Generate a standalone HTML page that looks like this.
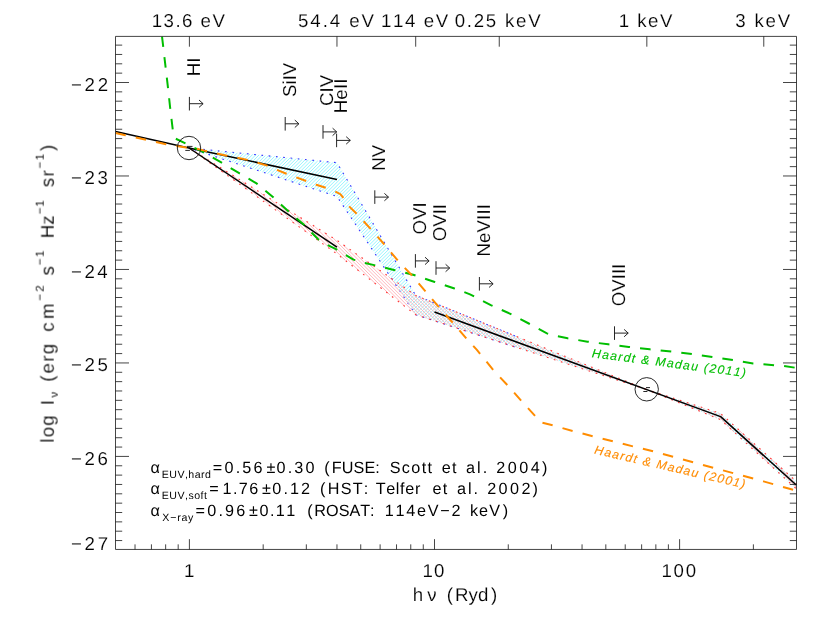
<!DOCTYPE html>
<html><head><meta charset="utf-8"><title>UV/X-ray background spectrum</title>
<style>
html,body{margin:0;padding:0;background:#fff;}
body{width:830px;height:623px;overflow:hidden;}
svg{display:block;font-family:"Liberation Sans",sans-serif;font-kerning:none;}
text{fill:#000;white-space:pre;text-rendering:geometricPrecision;stroke:#fff;stroke-width:0.14px;}
</style></head><body>
<svg width="830" height="623" viewBox="0 0 830 623">
<defs>
<clipPath id="cp"><rect x="115.5" y="36.4" width="681" height="513.05"/></clipPath>
<g id="ar" fill="none" stroke="#1a1a1a" stroke-width="0.95"><path d="M0,-6.8V6.8M0,0H13.7M9.6,-3.7L13.7,0L9.6,3.7"/></g>
</defs>
<rect width="830" height="623" fill="#fff"/>

<g clip-path="url(#cp)">
<path d="M190.8,148.6L191.2,148.2M193.4,149.4L194.3,148.5M195.9,150.3L197.4,148.8M198.5,151.1L200.4,149.1M201.0,151.9L203.5,149.4M203.6,152.8L206.6,149.7M206.1,153.6L209.7,150.1M208.7,154.5L212.8,150.4M211.3,155.3L215.9,150.7M213.8,156.1L219.0,151.0M216.4,157.0L222.1,151.3M218.9,157.8L225.2,151.6M221.5,158.6L228.2,151.9M224.0,159.5L231.3,152.2M226.6,160.3L234.4,152.5M229.2,161.2L237.5,152.8M231.7,162.0L240.6,153.1M234.3,162.8L243.7,153.4M236.8,163.7L246.8,153.7M239.4,164.5L249.9,154.0M241.9,165.3L252.9,154.3M244.5,166.2L256.0,154.6M247.1,167.0L259.1,154.9M249.6,167.9L262.2,155.3M252.2,168.7L265.3,155.6M254.7,169.5L268.4,155.9M257.3,170.4L271.5,156.2M259.8,171.2L274.6,156.5M262.4,172.0L277.7,156.8M264.9,172.9L280.7,157.1M267.5,173.7L283.8,157.4M270.1,174.6L286.9,157.7M272.6,175.4L290.0,158.0M275.2,176.2L293.1,158.3M277.7,177.1L296.2,158.6M280.3,177.9L299.3,158.9M282.8,178.7L302.4,159.2M285.4,179.6L305.4,159.5M288.0,180.4L308.5,159.8M290.5,181.3L311.6,160.1M293.1,182.1L314.7,160.4M295.6,182.9L317.8,160.8M298.2,183.8L320.9,161.1M300.7,184.6L324.0,161.4M303.3,185.4L327.1,161.7M305.9,186.3L330.2,162.0M308.4,187.1L333.2,162.3M311.0,188.0L336.3,162.6M313.5,188.8L338.0,164.3M316.1,189.6L339.2,166.5M318.6,190.5L340.5,168.6M321.2,191.3L341.8,170.7M323.7,192.1L343.0,172.9M326.3,193.0L344.3,175.0M328.9,193.8L345.5,177.1M331.4,194.7L346.8,179.3M334.0,195.5L348.1,181.4M336.5,196.3L349.3,183.5M338.1,198.2L350.6,185.7M339.4,200.2L351.9,187.8M340.8,202.2L353.1,189.9M342.2,204.3L354.4,192.0M343.5,206.3L355.7,194.2M344.9,208.4L356.9,196.3M346.2,210.4L358.2,198.4M347.6,212.4L359.4,200.6M348.9,214.5L360.7,202.7M350.3,216.5L362.0,204.8M351.6,218.5L363.2,207.0M353.0,220.6L364.5,209.1M354.4,222.6L365.8,211.2M355.7,224.7L367.0,213.4M357.1,226.7L368.3,215.5M358.4,228.7L369.5,217.6M359.8,230.8L370.8,219.7M361.1,232.8L372.1,221.9M362.5,234.8L373.3,224.0M363.9,236.9L374.6,226.1M365.2,238.9L375.9,228.3M366.6,241.0L377.1,230.4M367.9,243.0L378.4,232.5M369.3,245.0L379.7,234.7M370.6,247.1L380.9,236.8M372.0,249.1L382.2,238.9M373.3,251.2L383.4,241.1M374.7,253.2L384.7,243.2M376.1,255.2L386.0,245.3M377.4,257.3L387.2,247.4M378.8,259.3L388.5,249.6M380.1,261.3L389.8,251.7M381.5,263.4L391.0,253.8M382.8,265.4L392.3,256.0M384.2,267.5L393.5,258.1M385.5,269.5L394.8,260.2M386.9,271.5L396.1,262.4M388.3,273.6L397.3,264.5M389.6,275.6L398.6,266.6M391.0,277.6L399.9,268.8M392.3,279.7L401.1,270.9M393.7,281.7L402.4,273.0M395.0,283.8L403.7,275.1M396.4,285.8L404.9,277.3M397.7,287.8L406.2,279.4M399.1,289.9L407.4,281.5M400.5,291.9L408.7,283.7M401.8,294.0L410.0,285.8M403.2,296.0L411.2,287.9M404.5,298.0L412.5,290.1M405.9,300.1L413.8,292.2M407.2,302.1L415.0,294.3M408.6,304.1L416.8,295.9M410.0,306.2L419.2,296.9M411.3,308.2L421.7,297.9M412.7,310.3L424.1,298.9M414.0,312.3L426.5,299.8M415.4,314.3L428.9,300.8M417.7,315.4L431.3,301.8M420.2,316.3L433.7,302.8M422.8,317.1L436.1,303.8M425.4,317.9L438.5,304.8M427.9,318.8L440.9,305.7M430.5,319.6L443.4,306.7M433.0,320.4L445.8,307.7M435.6,321.3L448.2,308.7M438.2,322.1L450.6,309.7M440.7,322.9L453.0,310.7M443.3,323.7L455.4,311.6M445.9,324.6L457.8,312.6M448.4,325.4L460.2,313.6M451.0,326.2L462.6,314.6M453.6,327.1L465.1,315.6M456.1,327.9L467.5,316.5M458.7,328.7L469.9,317.5M461.2,329.6L472.3,318.5M463.8,330.4L474.7,319.5M466.4,331.2L477.1,320.5M468.9,332.0L479.5,321.5M471.5,332.9L481.9,322.4M474.1,333.7L484.3,323.4M476.6,334.5L486.8,324.4M479.2,335.4L489.2,325.4M481.8,336.2L491.6,326.4M484.3,337.0L494.0,327.4M486.9,337.9L496.4,328.3M489.4,338.7L498.8,329.3M492.0,339.5L501.2,330.3M494.6,340.3L503.6,331.3M497.1,341.2L506.0,332.3M499.7,342.0L508.5,333.3M502.3,342.8L510.9,334.2M504.8,343.7L513.3,335.2M507.4,344.5L515.7,336.2M510.0,345.3L518.1,337.2M512.5,346.2L520.5,338.2M515.1,347.0L522.9,339.2M517.7,347.8L525.3,340.1M520.2,348.6L527.7,341.1M522.8,349.5L530.2,342.1M525.3,350.3L532.6,343.1M527.9,351.1L535.0,344.1M530.5,352.0L537.4,345.0M533.0,352.8L539.8,346.0M535.6,353.6L542.2,347.0M538.2,354.5L544.6,348.0M540.7,355.3L547.0,349.0M543.3,356.1L549.4,350.0M545.9,356.9L551.9,350.9M548.4,357.8L554.3,351.9M551.0,358.6L556.7,352.9M553.5,359.4L559.1,353.9M556.1,360.3L561.5,354.9M558.7,361.1L563.9,355.9M561.2,361.9L566.3,356.8M563.8,362.8L568.7,357.8M566.4,363.6L571.1,358.8M568.9,364.4L573.6,359.8M571.5,365.3L576.0,360.8M574.1,366.1L578.4,361.8M576.6,366.9L580.8,362.7M579.2,367.7L583.2,363.7M581.7,368.6L585.6,364.7M584.3,369.4L588.0,365.7M586.9,370.2L590.4,366.7M589.4,371.1L592.8,367.7M592.0,371.9L595.3,368.6M594.6,372.7L597.7,369.6M597.1,373.6L600.1,370.6M599.7,374.4L602.5,371.6M602.3,375.2L604.9,372.6M604.8,376.0L607.3,373.5M607.4,376.9L609.7,374.5M610.0,377.7L612.1,375.5M612.5,378.5L614.6,376.5M615.1,379.4L617.0,377.5M617.6,380.2L619.4,378.5M620.2,381.0L621.8,379.4M622.8,381.9L624.2,380.4M625.3,382.7L626.6,381.4M627.9,383.5L629.0,382.4M630.5,384.3L631.4,383.4M633.0,385.2L633.8,384.4M635.6,386.0L636.3,385.3M638.2,386.8L638.7,386.3M640.7,387.7L641.1,387.3M643.3,388.5L643.5,388.3M650.7,391.2L651.0,391.0M653.1,392.2L653.5,391.8M655.5,393.2L656.1,392.6M658.0,394.2L658.7,393.5M660.4,395.2L661.2,394.3M662.8,396.2L663.8,395.1M665.2,397.1L666.4,396.0M667.6,398.1L668.9,396.8M670.0,399.1L671.5,397.6M672.4,400.1L674.0,398.5M674.8,401.1L676.6,399.3M677.2,402.0L679.2,400.1M679.7,403.0L681.7,400.9M682.1,404.0L684.3,401.8M684.5,405.0L686.9,402.6M686.9,406.0L689.4,403.4M689.3,407.0L692.0,404.3M691.7,407.9L694.6,405.1M694.1,408.9L697.1,405.9M696.5,409.9L699.7,406.8M698.9,410.9L702.3,407.6M701.4,411.9L704.8,408.4M703.8,412.9L707.4,409.2M706.2,413.8L709.9,410.1M708.6,414.8L712.5,410.9M711.0,415.8L715.1,411.7M713.4,416.8L717.6,412.6M715.8,417.8L720.2,413.4M718.2,418.8L722.1,414.9M720.6,419.7L723.9,416.5M722.4,421.4L725.7,418.1M724.2,423.0L727.5,419.7M726.0,424.6L729.3,421.3M727.7,426.2L731.1,422.9M729.5,427.8L732.8,424.5M731.3,429.5L734.6,426.1M733.1,431.1L736.4,427.7M734.8,432.7L738.2,429.3M736.6,434.3L740.0,430.9M738.4,435.9L741.8,432.5M740.2,437.6L743.6,434.1M741.9,439.2L745.4,435.7M743.7,440.8L747.2,437.3M745.5,442.4L748.9,439.0M747.3,444.0L750.7,440.6M749.0,445.7L752.5,442.2M750.8,447.3L754.3,443.8M752.6,448.9L756.1,445.4M754.3,450.5L757.9,447.0M756.1,452.1L759.7,448.6M757.9,453.8L761.5,450.2M759.7,455.4L763.3,451.8M761.4,457.0L765.1,453.4M763.2,458.6L766.8,455.0M765.0,460.2L768.6,456.6M766.8,461.9L770.4,458.2M768.5,463.5L772.2,459.8M770.3,465.1L774.0,461.4M772.1,466.7L775.8,463.0M773.9,468.3L777.6,464.6M775.6,470.0L779.4,466.2M777.4,471.6L781.2,467.8M779.2,473.2L782.9,469.4M781.0,474.8L784.7,471.0M782.7,476.4L786.5,472.7M784.5,478.1L788.3,474.3M786.3,479.7L790.1,475.9M788.1,481.3L791.9,477.5M789.8,482.9L793.7,479.1M791.6,484.5L795.5,480.7M793.4,486.2L796.5,483.0M795.2,487.8L796.5,486.4" fill="none" stroke="#96f6ff" stroke-width="1.0"/>
<polyline points="515.0,335.9 415.7,295.4 337.0,162.7 189.0,148.0 337.0,196.5 415.7,314.8 515.0,347.0" fill="none" stroke="#3535ff" stroke-width="1.1" stroke-dasharray="1.7 5.6"/>
<path d="M197.3,153.2L200.0,155.9M206.4,158.8L212.0,164.4M215.4,164.5L223.9,173.0M224.4,170.1L235.9,181.6M233.5,175.8L247.8,190.1M242.5,181.4L259.8,198.7M251.6,187.1L271.7,207.2M260.6,192.7L283.7,215.8M269.7,198.4L295.6,224.4M278.7,204.0L307.6,232.9M287.7,209.7L319.5,241.5M296.8,215.3L331.5,250.0M305.8,221.0L345.1,260.2M314.9,226.6L360.0,271.8M323.9,232.3L375.0,283.3M333.0,237.9L389.9,294.9M343.2,244.8L404.9,306.4M354.5,252.7L417.1,315.3M365.8,260.6L422.1,316.9M377.1,268.5L427.1,318.5M388.3,276.3L432.1,320.1M399.6,284.2L437.2,321.8M410.9,292.1L442.2,323.4M419.0,296.8L447.2,325.0M424.7,299.1L452.2,326.6M430.4,301.5L457.2,328.3M436.2,303.8L462.2,329.9M441.9,306.1L467.3,331.5M447.6,308.5L472.3,333.1M453.3,310.8L477.3,334.8M459.1,313.1L482.3,336.4M464.8,315.5L487.3,338.0M470.5,317.8L492.4,339.6M476.3,320.1L497.4,341.3M482.0,322.5L502.4,342.9M487.7,324.8L507.4,344.5M493.4,327.1L512.4,346.1M499.2,329.5L517.5,347.8M504.9,331.8L522.5,349.4M510.6,334.1L527.5,351.0M516.4,336.5L532.5,352.6M522.1,338.8L537.5,354.3M527.8,341.1L542.5,355.9M533.5,343.5L547.6,357.5M539.3,345.8L552.6,359.1M545.0,348.2L557.6,360.8M550.7,350.5L562.6,362.4M556.5,352.8L567.6,364.0M562.2,355.2L572.7,365.6M567.9,357.5L577.7,367.3M573.6,359.8L582.7,368.9M579.4,362.2L587.7,370.5M585.1,364.5L592.7,372.1M590.8,366.8L597.8,373.8M596.6,369.2L602.8,375.4M602.3,371.5L607.8,377.0M608.0,373.8L612.8,378.6M613.8,376.2L617.8,380.3M619.5,378.5L622.9,381.9M625.2,380.8L627.9,383.5M630.9,383.2L632.9,385.1M636.7,385.5L637.9,386.8M642.4,387.8L642.9,388.4M653.0,391.6L653.9,392.5M658.0,393.3L659.6,394.9M663.0,394.9L665.3,397.2M668.0,396.5L671.0,399.5M673.0,398.1L676.8,401.9M678.1,399.8L682.5,404.2M683.1,401.4L688.2,406.5M688.1,403.0L694.0,408.9M693.1,404.6L699.7,411.2M698.1,406.3L705.4,413.5M703.2,407.9L711.1,415.9M708.2,409.5L716.9,418.2M713.2,411.1L734.1,432.1M718.2,412.8L773.1,467.6M737.8,429.0L796.5,487.6M770.8,458.5L796.5,484.3" fill="none" stroke="#ffb4ba" stroke-width="0.95"/>
<polygon points="189.0,148.0 337.0,240.4 415.7,295.4 646.7,389.6 720.6,413.5 796.5,481.6 796.5,489.0 720.6,419.7 646.7,389.6 415.7,314.8 337.0,254.0" fill="none" stroke="#ff3535" stroke-width="1.1" stroke-dasharray="1.7 5.6"/>
<g fill="none" stroke="#000" stroke-width="1.5" stroke-linejoin="round">
<polyline points="115.5,131.6 189.0,148.0 337.0,179.6"/>
<polyline points="189.0,148.0 337.0,247.2"/>
<polyline points="434.5,312.0 720.6,416.6 796.5,485.3"/>
</g>
<polyline points="162.0,36.4 168.0,87.8 170.2,108.2 172.7,129.1 173.6,134.5 175.3,138.5 184.4,142.8 194.0,147.7 202.5,151.6 220.8,162.2 239.2,173.2 256.5,183.4 272.9,196.9 288.3,211.3 303.7,224.4 318.2,239.3 326.9,244.8 335.5,248.9 353.4,259.6 363.4,262.7 374.2,265.1 394.0,270.0 414.0,275.0 434.0,281.7 453.7,288.2 470.0,294.3 490.8,305.1 509.8,313.6 528.8,323.5 546.9,333.4 556.8,336.1 567.7,338.3 587.5,341.7 608.2,344.3 628.8,346.9 649.8,349.3 680.2,352.5 712.3,356.9 732.9,360.1 753.1,363.4 783.1,365.9 796.5,367.9" fill="none" stroke="#00be00" stroke-width="2" stroke-dasharray="10.65 10.1"/>
<polyline points="115.5,133.1 125.4,135.3 146.1,139.8 166.0,144.3 186.1,147.6 193.9,147.9 204.5,150.6 215.0,153.1 225.7,155.4 237.2,157.7 247.8,159.9 257.5,162.7 267.1,165.6 276.7,169.7 286.4,173.7 297.0,177.6 306.6,181.1 316.3,184.7 326.9,188.2 335.5,191.7 340.4,194.2 344.0,198.6 349.0,206.3 357.2,214.2 370.6,228.9 385.0,245.2 397.7,260.5 412.0,275.5 426.0,291.9 439.3,307.6 453.0,322.9 466.7,338.8 476.9,349.8 493.6,370.5 508.0,385.8 521.5,401.0 535.2,416.1 541.0,422.3 553.3,425.5 573.2,431.1 593.1,436.4 613.5,441.5 633.4,446.5 650.0,450.5 763.5,481.4 796.5,490.8" fill="none" stroke="#ff8c00" stroke-width="2" stroke-dasharray="10.5 10.25"/>
</g>
<circle cx="189.0" cy="148.0" r="11.7" fill="none" stroke="#111" stroke-width="0.9"/>
<circle cx="646.7" cy="389.3" r="11.7" fill="none" stroke="#111" stroke-width="0.9"/>
<path d="M187,146.4H192.5M185.3,150.4H189.9" stroke="#000" stroke-width="0.85" fill="none"/>
<path d="M646,387.6H650M643.3,391.5H647.4" stroke="#000" stroke-width="0.85" fill="none"/>
<path d="M115.5,36.4H796.5V549.45H115.5ZM115.5,540.55h6.7M796.5,540.55h-6.7M115.5,531.2h6.7M796.5,531.2h-6.7M115.5,521.86h6.7M796.5,521.86h-6.7M115.5,512.51h6.7M796.5,512.51h-6.7M115.5,503.16h6.7M796.5,503.16h-6.7M115.5,493.81h6.7M796.5,493.81h-6.7M115.5,484.46h6.7M796.5,484.46h-6.7M115.5,475.12h6.7M796.5,475.12h-6.7M115.5,465.77h6.7M796.5,465.77h-6.7M115.5,456.42h13.5M796.5,456.42h-13.5M115.5,447.07h6.7M796.5,447.07h-6.7M115.5,437.72h6.7M796.5,437.72h-6.7M115.5,428.38h6.7M796.5,428.38h-6.7M115.5,419.03h6.7M796.5,419.03h-6.7M115.5,409.68h6.7M796.5,409.68h-6.7M115.5,400.33h6.7M796.5,400.33h-6.7M115.5,390.98h6.7M796.5,390.98h-6.7M115.5,381.64h6.7M796.5,381.64h-6.7M115.5,372.29h6.7M796.5,372.29h-6.7M115.5,362.94h13.5M796.5,362.94h-13.5M115.5,353.59h6.7M796.5,353.59h-6.7M115.5,344.24h6.7M796.5,344.24h-6.7M115.5,334.9h6.7M796.5,334.9h-6.7M115.5,325.55h6.7M796.5,325.55h-6.7M115.5,316.2h6.7M796.5,316.2h-6.7M115.5,306.85h6.7M796.5,306.85h-6.7M115.5,297.5h6.7M796.5,297.5h-6.7M115.5,288.16h6.7M796.5,288.16h-6.7M115.5,278.81h6.7M796.5,278.81h-6.7M115.5,269.46h13.5M796.5,269.46h-13.5M115.5,260.11h6.7M796.5,260.11h-6.7M115.5,250.76h6.7M796.5,250.76h-6.7M115.5,241.42h6.7M796.5,241.42h-6.7M115.5,232.07h6.7M796.5,232.07h-6.7M115.5,222.72h6.7M796.5,222.72h-6.7M115.5,213.37h6.7M796.5,213.37h-6.7M115.5,204.02h6.7M796.5,204.02h-6.7M115.5,194.68h6.7M796.5,194.68h-6.7M115.5,185.33h6.7M796.5,185.33h-6.7M115.5,175.98h13.5M796.5,175.98h-13.5M115.5,166.63h6.7M796.5,166.63h-6.7M115.5,157.28h6.7M796.5,157.28h-6.7M115.5,147.94h6.7M796.5,147.94h-6.7M115.5,138.59h6.7M796.5,138.59h-6.7M115.5,129.24h6.7M796.5,129.24h-6.7M115.5,119.89h6.7M796.5,119.89h-6.7M115.5,110.54h6.7M796.5,110.54h-6.7M115.5,101.2h6.7M796.5,101.2h-6.7M115.5,91.85h6.7M796.5,91.85h-6.7M115.5,82.5h13.5M796.5,82.5h-13.5M115.5,73.15h6.7M796.5,73.15h-6.7M115.5,63.8h6.7M796.5,63.8h-6.7M115.5,54.46h6.7M796.5,54.46h-6.7M115.5,45.11h6.7M796.5,45.11h-6.7M135.02,549.45v-5.1M151.43,549.45v-5.1M165.65,549.45v-5.1M178.18,549.45v-5.1M189.4,549.45v-10.3M263.18,549.45v-5.1M306.34,549.45v-5.1M336.96,549.45v-5.1M360.72,549.45v-5.1M380.12,549.45v-5.1M396.53,549.45v-5.1M410.75,549.45v-5.1M423.28,549.45v-5.1M434.5,549.45v-10.3M508.28,549.45v-5.1M551.44,549.45v-5.1M582.06,549.45v-5.1M605.82,549.45v-5.1M625.22,549.45v-5.1M641.63,549.45v-5.1M655.85,549.45v-5.1M668.38,549.45v-5.1M679.6,549.45v-10.3M753.38,549.45v-5.1M189.4,36.4v10.3M336.96,36.4v10.3M415.69,36.4v10.3M499.26,36.4v10.3M646.83,36.4v10.3M763.77,36.4v10.3" fill="none" stroke="#111" stroke-width="0.78"/>
<g opacity="0.999">
<use href="#ar" x="189.4" y="103.7"/>
<text transform="translate(199.7,74.2) rotate(-90)" x="-2.15" y="0" font-size="18.7" letter-spacing="0.00">HI</text>
<use href="#ar" x="285.2" y="123.8"/>
<text transform="translate(295.5,95.7) rotate(-90)" x="-1.28" y="0" font-size="18.7" letter-spacing="0.00">SiIV</text>
<use href="#ar" x="323.0" y="131.9"/>
<text transform="translate(333.3,103.8) rotate(-90)" x="-2.12" y="0" font-size="18.7" letter-spacing="0.00">CIV</text>
<use href="#ar" x="336.6" y="140.4"/>
<text transform="translate(346.9,111.8) rotate(-90)" x="-1.53" y="0" font-size="18.7" letter-spacing="0.19">HeII</text>
<use href="#ar" x="374.8" y="197.1"/>
<text transform="translate(385.1,168.2) rotate(-90)" x="-2.46" y="0" font-size="18.7" letter-spacing="0.00">NV</text>
<use href="#ar" x="415.4" y="260.9"/>
<text transform="translate(425.7,232.4) rotate(-90)" x="-1.99" y="0" font-size="18.7" letter-spacing="0.00">OVI</text>
<use href="#ar" x="436.0" y="268.0"/>
<text transform="translate(446.3,239.1) rotate(-90)" x="-2.23" y="0" font-size="18.7" letter-spacing="0.00">OVII</text>
<use href="#ar" x="479.4" y="283.8"/>
<text transform="translate(489.7,255.1) rotate(-90)" x="-1.53" y="0" font-size="18.7" letter-spacing="0.12">NeVIII</text>
<use href="#ar" x="614.5" y="333.1"/>
<text transform="translate(624.8,305.1) rotate(-90)" x="-1.18" y="0" font-size="18.7" letter-spacing="0.00">OVIII</text>
<text x="151.68" y="27.3" font-size="18.7" letter-spacing="1.46">13.6 eV</text>
<text x="298.05" y="27.3" font-size="18.7" letter-spacing="1.93">54.4 eV</text>
<text x="380.98" y="27.3" font-size="18.7" letter-spacing="1.61">114 eV</text>
<text x="454.67" y="27.3" font-size="18.7" letter-spacing="1.74">0.25 keV</text>
<text x="618.68" y="27.3" font-size="18.7" letter-spacing="1.50">1 keV</text>
<text x="735.29" y="27.3" font-size="18.7" letter-spacing="1.79">3 keV</text>
<text y="549.5"><tspan x="70.94" font-size="18.70" letter-spacing="0.00">−</tspan><tspan x="84.56" font-size="18.70" letter-spacing="2.78">27</tspan></text>
<text y="464.5"><tspan x="70.94" font-size="18.70" letter-spacing="0.00">−</tspan><tspan x="84.56" font-size="18.70" letter-spacing="2.66">26</tspan></text>
<text y="371.0"><tspan x="70.94" font-size="18.70" letter-spacing="0.00">−</tspan><tspan x="84.56" font-size="18.70" letter-spacing="2.63">25</tspan></text>
<text y="277.6"><tspan x="70.94" font-size="18.70" letter-spacing="0.00">−</tspan><tspan x="84.56" font-size="18.70" letter-spacing="2.39">24</tspan></text>
<text y="184.1"><tspan x="70.94" font-size="18.70" letter-spacing="0.00">−</tspan><tspan x="84.56" font-size="18.70" letter-spacing="2.66">23</tspan></text>
<text y="90.6"><tspan x="70.94" font-size="18.70" letter-spacing="0.00">−</tspan><tspan x="84.56" font-size="18.70" letter-spacing="2.78">22</tspan></text>
<text x="184.10" y="577.3" font-size="18.7" letter-spacing="0.00">1</text>
<text x="422.58" y="577.3" font-size="18.7" letter-spacing="0.95">10</text>
<text x="661.48" y="577.3" font-size="18.7" letter-spacing="1.73">100</text>
<text y="601.3"><tspan x="412.86" font-size="18.70" letter-spacing="0.00">h</tspan><tspan x="427.28" font-size="18.70" letter-spacing="0.00">ν</tspan><tspan x="440.50" font-size="18.70" letter-spacing="0.00"> </tspan><tspan x="446.76" font-size="18.70" letter-spacing="0.00">(</tspan><tspan x="455.06" font-size="18.70" letter-spacing="0.00">Ryd</tspan><tspan x="491.11" font-size="18.70" letter-spacing="0.00">)</tspan></text>
<text transform="translate(53.7,441.5) rotate(-90)"><tspan x="-1.26" y="0.00" font-size="18.70" letter-spacing="1.26">log</tspan><tspan x="28.50" y="0.00" font-size="18.70" letter-spacing="0.00"> </tspan><tspan x="36.20" y="0.00" font-size="18.70" letter-spacing="0.00">I</tspan><tspan x="43.99" y="4.00" font-size="11.30" letter-spacing="0.00" stroke-width="0">ν</tspan><tspan x="52.50" y="0.00" font-size="18.70" letter-spacing="0.00"> </tspan><tspan x="59.76" y="0.00" font-size="18.70" letter-spacing="0.00">(</tspan><tspan x="68.01" y="0.00" font-size="18.70" letter-spacing="1.34">erg</tspan><tspan x="100.50" y="0.00" font-size="18.70" letter-spacing="0.00"> </tspan><tspan x="109.71" y="0.00" font-size="18.70" letter-spacing="3.50">cm</tspan><tspan x="140.73" y="-10.40" font-size="11.60" letter-spacing="2.33" stroke-width="0">−2</tspan><tspan x="160.50" y="0.00" font-size="18.70" letter-spacing="0.00"> </tspan><tspan x="166.05" y="0.00" font-size="18.70" letter-spacing="0.00">s</tspan><tspan x="176.33" y="-10.40" font-size="11.60" letter-spacing="1.31" stroke-width="0">−1</tspan><tspan x="195.50" y="0.00" font-size="18.70" letter-spacing="0.00"> </tspan><tspan x="203.17" y="0.00" font-size="18.70" letter-spacing="0.00">Hz</tspan><tspan x="227.23" y="-10.40" font-size="11.60" letter-spacing="0.81" stroke-width="0">−1</tspan><tspan x="245.50" y="0.00" font-size="18.70" letter-spacing="0.00"> </tspan><tspan x="254.28" y="0.00" font-size="18.70" letter-spacing="1.45">sr</tspan><tspan x="273.03" y="-10.40" font-size="11.60" letter-spacing="1.51" stroke-width="0">−1</tspan><tspan x="290.61" y="0.00" font-size="18.70" letter-spacing="0.00">)</tspan></text>
<text style="stroke-width:0"><tspan x="150.56" y="473.20" font-size="16.20" letter-spacing="0.00">α</tspan><tspan x="161.73" y="477.80" font-size="10.60" letter-spacing="0.47" stroke-width="0">EUV,hard</tspan><tspan x="212.87" y="473.20" font-size="16.20" letter-spacing="0.00">=</tspan><tspan x="224.57" y="473.20" font-size="16.20" letter-spacing="2.14">0.56</tspan><tspan x="266.40" y="473.20" font-size="16.20" letter-spacing="0.00">±</tspan><tspan x="276.57" y="473.20" font-size="16.20" letter-spacing="2.15">0.30</tspan><tspan x="318.50" y="473.20" font-size="16.20" letter-spacing="0.00"> </tspan><tspan x="324.25" y="473.20" font-size="16.20" letter-spacing="0.00">(</tspan><tspan x="331.67" y="473.20" font-size="16.20" letter-spacing="0.13">FUSE:</tspan><tspan x="382.50" y="473.20" font-size="16.20" letter-spacing="0.00"> </tspan><tspan x="389.66" y="473.20" font-size="16.20" letter-spacing="1.38">Scott</tspan><tspan x="436.50" y="473.20" font-size="16.20" letter-spacing="0.00"> </tspan><tspan x="441.81" y="473.20" font-size="16.20" letter-spacing="1.10">et</tspan><tspan x="460.50" y="473.20" font-size="16.20" letter-spacing="0.00"> </tspan><tspan x="466.01" y="473.20" font-size="16.20" letter-spacing="2.08">al.</tspan><tspan x="490.50" y="473.20" font-size="16.20" letter-spacing="0.00"> </tspan><tspan x="496.29" y="473.20" font-size="16.20" letter-spacing="2.52">2004</tspan><tspan x="542.06" y="473.20" font-size="16.20" letter-spacing="0.00">)</tspan></text>
<text style="stroke-width:0"><tspan x="150.56" y="494.40" font-size="16.20" letter-spacing="0.00">α</tspan><tspan x="161.73" y="499.00" font-size="10.60" letter-spacing="0.49" stroke-width="0">EUV,soft</tspan><tspan x="209.32" y="494.40" font-size="16.20" letter-spacing="0.00">=</tspan><tspan x="222.57" y="494.40" font-size="16.20" letter-spacing="1.37">1.76</tspan><tspan x="261.95" y="494.40" font-size="16.20" letter-spacing="0.00">±</tspan><tspan x="272.37" y="494.40" font-size="16.20" letter-spacing="2.07">0.12</tspan><tspan x="314.50" y="494.40" font-size="16.20" letter-spacing="0.00"> </tspan><tspan x="320.00" y="494.40" font-size="16.20" letter-spacing="0.00">(</tspan><tspan x="327.87" y="494.40" font-size="16.20" letter-spacing="1.17">HST:</tspan><tspan x="370.50" y="494.40" font-size="16.20" letter-spacing="0.00"> </tspan><tspan x="375.64" y="494.40" font-size="16.20" letter-spacing="0.66">Telfer</tspan><tspan x="425.50" y="494.40" font-size="16.20" letter-spacing="0.00"> </tspan><tspan x="432.41" y="494.40" font-size="16.20" letter-spacing="1.40">et</tspan><tspan x="450.50" y="494.40" font-size="16.20" letter-spacing="0.00"> </tspan><tspan x="456.91" y="494.40" font-size="16.20" letter-spacing="1.98">al.</tspan><tspan x="480.50" y="494.40" font-size="16.20" letter-spacing="0.00"> </tspan><tspan x="487.19" y="494.40" font-size="16.20" letter-spacing="2.40">2002</tspan><tspan x="532.61" y="494.40" font-size="16.20" letter-spacing="0.00">)</tspan></text>
<text style="stroke-width:0"><tspan x="150.56" y="516.20" font-size="16.20" letter-spacing="0.00">α</tspan><tspan x="162.36" y="520.80" font-size="10.60" letter-spacing="0.77" stroke-width="0">X−ray</tspan><tspan x="195.57" y="516.20" font-size="16.20" letter-spacing="0.00">=</tspan><tspan x="207.27" y="516.20" font-size="16.20" letter-spacing="2.17">0.96</tspan><tspan x="248.95" y="516.20" font-size="16.20" letter-spacing="0.00">±</tspan><tspan x="259.47" y="516.20" font-size="16.20" letter-spacing="1.43">0.11</tspan><tspan x="300.50" y="516.20" font-size="16.20" letter-spacing="0.00"> </tspan><tspan x="307.35" y="516.20" font-size="16.20" letter-spacing="0.00">(</tspan><tspan x="314.37" y="516.20" font-size="16.20" letter-spacing="0.00">ROSAT:</tspan><tspan x="378.50" y="516.20" font-size="16.20" letter-spacing="0.00"> </tspan><tspan x="384.77" y="516.20" font-size="16.20" letter-spacing="1.76">114eV−2</tspan><tspan x="464.50" y="516.20" font-size="16.20" letter-spacing="0.00"> </tspan><tspan x="469.91" y="516.20" font-size="16.20" letter-spacing="1.12">keV</tspan><tspan x="502.71" y="516.20" font-size="16.20" letter-spacing="0.00">)</tspan></text>
<text transform="translate(591.9,357.3) rotate(7.3)" x="-0.38" y="0" font-size="12.3" font-style="italic" letter-spacing="1.33" style="fill:#00be00;stroke:#00be00;stroke-width:0.12px">Haardt &amp; Madau (2011)</text>
<text transform="translate(594.1,453.6) rotate(13.0)" x="-0.38" y="0" font-size="12.3" font-style="italic" letter-spacing="1.30" style="fill:#ff8c00;stroke:#ff8c00;stroke-width:0.12px">Haardt &amp; Madau (2001)</text>
</g>
</svg></body></html>
